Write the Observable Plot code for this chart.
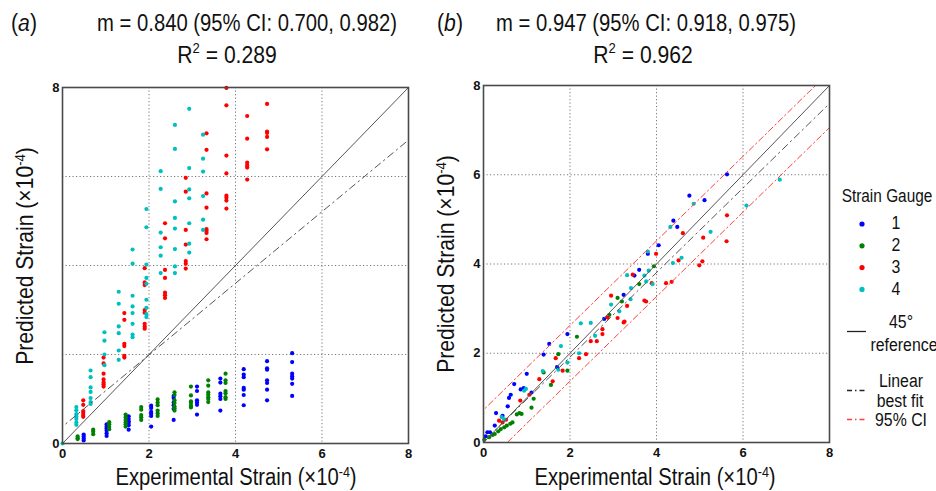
<!DOCTYPE html>
<html><head><meta charset="utf-8">
<script src="https://cdn.jsdelivr.net/npm/d3@7"></script>
<script src="https://cdn.jsdelivr.net/npm/@observablehq/plot@0.6"></script>
<style>
body{margin:0;background:#fff;}
#root{position:relative;width:936px;height:491px;overflow:hidden;font-family:"Liberation Sans",Arial,sans-serif;color:#111;}
.t{position:absolute;white-space:nowrap;line-height:1;}
.p{position:absolute;top:0;}
</style></head><body><div id="root"></div>
<script>
// ---------- DATA ----------
const gauges = ["1", "2", "3", "4"];
const gaugeColors = ["#0000ff", "#008000", "#ff0000", "#00bfbf"];
const ticks = [0, 2, 4, 6, 8];
const gridTicks = [2, 4, 6];
const yTicksA = [0, 8];

// Panel (a): [experimental, [predicted...]] per column
const a1 = [[0.49,[0.20,0.16,0.11,0.07]],[1.02,[0.43,0.38,0.34,0.29,0.23,0.17]],[1.53,[0.61,0.55,0.50,0.46,0.41,0.31]],[2.05,[0.85,0.80,0.71,0.67,0.62,0.38]],[2.57,[1.07,1.02,0.92,0.86,0.78,0.53]],[3.11,[1.28,1.18,0.97,0.92,0.87,0.65]],[3.65,[1.46,1.37,1.12,1.06,1.00,0.74]],[4.19,[1.67,1.55,1.49,1.25,1.21,1.09,0.86]],[4.73,[1.85,1.69,1.66,1.42,1.36,1.21,0.97]],[5.31,[2.03,1.83,1.57,1.51,1.46,1.34,1.07]]];
const a2 = [[0.35,[0.16,0.12,0.10]],[0.71,[0.31,0.27,0.21]],[1.08,[0.48,0.43,0.37,0.32]],[1.46,[0.65,0.59,0.53,0.48,0.43,0.38]],[1.82,[0.82,0.76,0.64,0.59,0.53]],[2.20,[0.99,0.92,0.86,0.74,0.68,0.62]],[2.59,[1.15,1.09,0.97,0.91,0.83,0.79,0.74]],[2.97,[1.28,1.08,0.95,0.91,0.85,0.81]],[3.37,[1.42,1.30,1.15,1.10,1.04,1.00,0.93]],[3.77,[1.57,1.42,1.36,1.18,1.13,1.04,1.00]]];
const a3 = [[0.48,[0.97,0.87,0.73,0.69,0.64,0.60]],[0.95,[1.93,1.80,1.57,1.44,1.37,1.33,1.28]],[1.43,[2.93,2.78,2.24,2.19,1.97,1.93]],[1.90,[3.94,3.62,3.56,3.00,2.94,2.69,2.63,2.58]],[2.37,[4.95,4.61,3.90,3.72,3.39,3.33,3.27]],[2.85,[5.97,5.66,4.80,4.47,4.10,4.04,3.93]],[3.33,[6.97,6.60,5.62,5.30,4.82,4.78,4.73,4.59]],[3.79,[7.99,7.60,6.47,6.07,5.57,5.52,5.46,5.28]],[4.27,[7.36,6.85,6.31,6.25,6.20,5.93]],[4.73,[7.63,7.01,6.98,6.89,6.61]]];
const a4 = [[0,[0]],[0.32,[0.82,0.75,0.66,0.60,0.55,0.47,0.42]],[0.65,[1.64,1.49,1.26,1.16,1.02,0.93,0.89]],[0.97,[2.50,2.31,2.00,1.76]],[1.30,[3.41,3.14,2.63,2.48,2.09,1.88]],[1.62,[4.36,4.04,3.32,3.08,2.93,2.69,2.45,2.39]],[1.94,[5.27,4.86,4.02,3.72,3.59,3.23,3.05,2.91,2.84]],[2.27,[6.12,5.72,4.74,4.41,4.22,3.83]],[2.60,[7.16,6.62,5.44,5.07,4.83,4.37,3.98,3.83]],[2.93,[7.52,6.19,5.71,5.51,4.95,4.49,4.29]],[3.25,[6.94,6.40,6.11,5.56,5.03,4.80]]];

// Panel (b): [experimental, predicted] pairs
const b1 = [[0.05,0.14],[0.09,0.23],[0.15,0.23],[0.26,0.38],[0.29,0.66],[0.44,0.60],[0.56,0.81],[0.59,1.00],[0.63,1.07],[0.71,1.31],[0.86,1.19],[0.93,1.22],[1.00,1.54],[1.11,1.12],[1.39,1.97],[1.52,2.21],[1.70,1.69],[1.94,2.43],[2.79,2.77],[3.24,3.31],[3.49,3.74],[3.60,3.87],[3.80,4.23],[4.05,4.42],[4.39,4.97],[4.48,4.83],[4.76,5.53],[5.11,5.43],[5.63,6.01]];
const b2 = [[0.02,0.06],[0.13,0.12],[0.21,0.17],[0.26,0.19],[0.34,0.25],[0.40,0.30],[0.48,0.34],[0.54,0.38],[0.62,0.42],[0.67,0.45],[0.77,0.63],[0.83,0.66],[0.88,0.64],[1.11,0.78],[1.16,0.98],[1.39,1.57],[1.56,1.29],[1.73,1.98],[1.94,1.61],[2.16,2.37],[2.91,2.86],[3.10,3.24],[3.20,3.16],[3.60,3.55],[3.94,3.95]];
const b3 = [[0.36,0.49],[0.44,0.45],[0.52,0.51],[0.85,0.94],[1.06,1.07],[1.29,1.42],[1.60,1.37],[1.67,1.89],[1.83,1.61],[2.21,1.89],[2.37,1.98],[2.48,2.27],[2.62,2.27],[2.75,2.43],[2.75,2.54],[2.87,2.80],[2.95,3.29],[3.10,2.79],[3.24,2.69],[3.26,2.71],[3.32,3.06],[3.45,3.76],[3.72,3.18],[3.76,3.16],[3.89,3.57],[3.99,4.23],[4.22,3.57],[4.35,3.60],[4.51,4.08],[4.61,4.69],[4.99,3.97],[5.06,4.06],[5.08,4.59],[5.62,4.51],[5.63,5.09]];
const b4 = [[0.42,0.57],[0.48,0.52],[0.94,1.16],[0.98,1.20],[1.37,1.60],[1.73,1.63],[1.79,2.16],[1.94,1.79],[2.21,2.00],[2.25,2.67],[2.48,2.68],[2.58,2.39],[2.95,3.09],[3.14,2.94],[3.32,3.75],[3.40,3.21],[3.41,3.46],[3.72,3.74],[3.76,3.61],[3.80,4.28],[3.82,3.85],[3.91,3.55],[4.32,4.83],[4.38,4.02],[4.58,4.14],[4.86,5.35],[5.25,4.72],[6.08,5.31],[6.85,5.89]];

// Fit lines: [slope, intercept]
const refLine = [1, 0];
const fitA = [0.805, 0.38];
const fitB = [0.947, 0.02];
const ciUpperB = [0.947, 0.73];
const ciLowerB = [0.947, -0.52];

const titlesA = ["(a)", "m = 0.840 (95% CI: 0.700, 0.982)", "0.289"];
const titlesB = ["(b)", "m = 0.947 (95% CI: 0.918, 0.975)", "0.962"];

// ---------- HELPERS ----------
const root = document.getElementById("root");
const FONT = '"Liberation Sans", Arial, sans-serif';
const CI_RED = "#ff4040";
function txt(html, x, y, size, extra = {}) {
  const d = document.createElement("div");
  d.className = "t";
  d.innerHTML = html;
  d.style.left = x + "px";
  d.style.top = y + "px";
  d.style.fontSize = size + "px";
  const sx = extra.sx ?? 0.88;
  d.style.transform = `translate(-50%,-50%) ${extra.rot ? "rotate(-90deg)" : ""} scaleX(${sx})`;
  root.appendChild(d);
  return d;
}
const flatCols = (cols, g) => cols.flatMap(([x, ys]) => ys.map(y => ({x, y, g})));
const flatPairs = (pairs, g) => pairs.map(([x, y]) => ({x, y, g}));
const lineOf = ([m, b]) => [-1, 9].map(x => ({x, y: m * x + b}));

function panel(points, lines, yTicks, ml, mt, mb, mr) {
  const marks = [
    Plot.gridX(gridTicks, {stroke: "#777", strokeOpacity: 1, strokeDasharray: "1.2,2.3", strokeWidth: 1}),
    Plot.gridY(gridTicks, {stroke: "#777", strokeOpacity: 1, strokeDasharray: "1.2,2.3", strokeWidth: 1}),
    Plot.dot(points, {x: "x", y: "y", r: 2.1, fill: d => gaugeColors[gauges.indexOf(d.g)], stroke: "none"}),
    ...lines,
    Plot.frame({stroke: "#4a4a4a", strokeWidth: 1.6}),
    Plot.axisX(ticks, {tickSize: 0, tickPadding: 5, fontSize: 13, fontWeight: "bold", label: null, fill: "#111"}),
    Plot.axisY(yTicks, {tickSize: 0, tickPadding: 3, fontSize: 13, fontWeight: "bold", label: null, fill: "#111"})
  ];
  return Plot.plot({
    width: 420, height: 491,
    marginLeft: ml, marginRight: mr, marginTop: mt, marginBottom: mb,
    x: {domain: [0, 8]}, y: {domain: [0, 8]},
    style: {fontFamily: FONT, background: "transparent", overflow: "visible"},
    marks
  });
}

// ---------- PANEL A ----------
const ptsA = [...flatCols(a1, "1"), ...flatCols(a2, "2"), ...flatCols(a3, "3"), ...flatCols(a4, "4")];
const pA = panel(ptsA, [
  Plot.line(lineOf(refLine), {x: "x", y: "y", stroke: "#555", strokeWidth: 1, clip: true}),
  Plot.line(lineOf(fitA), {x: "x", y: "y", stroke: "#555", strokeWidth: 1, strokeDasharray: "7,4,1.5,4", clip: true})
], yTicksA, 62, 87, 48, 12);
pA.classList.add("p"); pA.style.left = "0px";
root.appendChild(pA);

// ---------- PANEL B ----------
const ptsB = [...flatPairs(b1, "1"), ...flatPairs(b2, "2"), ...flatPairs(b3, "3"), ...flatPairs(b4, "4")];
const pB = panel(ptsB, [
  Plot.line(lineOf(ciUpperB), {x: "x", y: "y", stroke: CI_RED, strokeWidth: 1, strokeDasharray: "6,3,1.5,3", clip: true}),
  Plot.line(lineOf(ciLowerB), {x: "x", y: "y", stroke: CI_RED, strokeWidth: 1, strokeDasharray: "6,3,1.5,3", clip: true}),
  Plot.line(lineOf(refLine), {x: "x", y: "y", stroke: "#555", strokeWidth: 1, clip: true}),
  Plot.line(lineOf(fitB), {x: "x", y: "y", stroke: "#555", strokeWidth: 1, strokeDasharray: "7,4,1.5,4", clip: true})
], ticks, 63, 85, 49, 11);
pB.classList.add("p"); pB.style.left = "420px";
root.appendChild(pB);

// ---------- TEXT ----------
const sup2 = `<sup style="font-size:0.62em;vertical-align:0.65em">2</sup>`;
txt(`(<i>a</i>)`, 24, 23, 23, {sx: 0.92});
txt(titlesA[1], 247, 23, 23);
txt(`R${sup2} = ${titlesA[2]}`, 227, 54, 24);
txt(`(<i>b</i>)`, 450, 23, 23, {sx: 0.92});
txt(titlesB[1], 646, 23, 23);
txt(`R${sup2} = ${titlesB[2]}`, 643, 54, 24);

const sup4 = `<sup style="font-size:0.62em;vertical-align:0.6em">-4</sup>`;
txt(`Experimental Strain (×10${sup4})`, 236, 477, 23);
txt(`Experimental Strain (×10${sup4})`, 655, 477, 23);
txt(`Predicted Strain (×10${sup4})`, 25, 256, 24, {rot: true});
txt(`Predicted Strain (×10${sup4})`, 446, 264, 24, {rot: true});

// ---------- LEGEND ----------
const leg = document.createElementNS("http://www.w3.org/2000/svg", "svg");
leg.setAttribute("width", 936); leg.setAttribute("height", 491);
leg.style.position = "absolute"; leg.style.left = "0"; leg.style.top = "0";
root.appendChild(leg);
d3.select(leg).selectAll("circle").data(gauges).join("circle")
  .attr("cx", 862).attr("cy", (d, i) => 224 + i * 21.8).attr("r", 2.6)
  .attr("fill", (d, i) => gaugeColors[i]);
const legLines = [
  {c: "#222", dash: "none", y: 331.5},
  {c: "#222", dash: "5,3,1.5,3", y: 390.5},
  {c: CI_RED, dash: "5,3,1.5,3", y: 419.5}
];
d3.select(leg).selectAll("line").data(legLines).join("line")
  .attr("x1", 847).attr("x2", 866).attr("y1", d => d.y).attr("y2", d => d.y)
  .style("stroke", d => d.c).style("stroke-width", "1.3px").style("stroke-dasharray", d => d.dash);

txt("Strain Gauge", 887, 197, 17.5);
gauges.forEach((g, i) => txt(g, 896, 223 + i * 22, 18));
txt("45°", 901, 322, 18);
txt("reference", 904, 345, 18);
txt("Linear", 901, 381, 18);
txt("best fit", 900, 401, 18);
txt("95% CI", 901, 420, 18);
</script></body></html>
